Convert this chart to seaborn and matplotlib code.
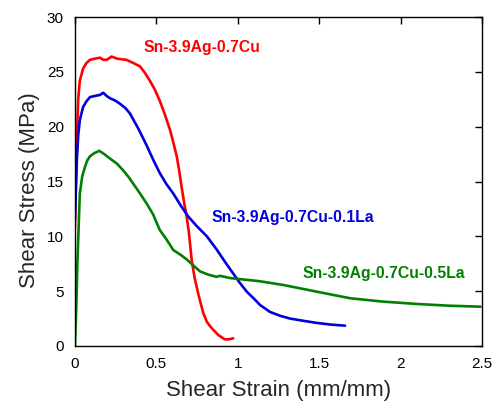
import matplotlib
matplotlib.use("Agg")
import matplotlib.pyplot as plt
import seaborn as sns
import pandas as pd

# Sn-3.9Ag-0.7Cu (red)
strain_a = [0.0, 0.005, 0.012, 0.02, 0.03, 0.05, 0.07, 0.092, 0.12, 0.154, 0.175, 0.195, 0.225, 0.26, 0.317,
            0.36, 0.40, 0.43, 0.46, 0.49, 0.52, 0.55, 0.584, 0.605, 0.625, 0.64, 0.655, 0.67, 0.686, 0.70,
            0.717, 0.735, 0.755, 0.77, 0.788, 0.81, 0.83, 0.85, 0.88, 0.90, 0.92, 0.945, 0.972]
stress_a = [10.8, 14.0, 19.0, 22.5, 24.2, 25.3, 25.8, 26.1, 26.2, 26.3, 26.1, 26.1, 26.4, 26.2, 26.1,
            25.8, 25.5, 24.9, 24.2, 23.4, 22.4, 21.2, 19.7, 18.5, 17.3, 16.0, 14.5, 13.1, 11.8, 10.3,
            7.8, 6.2, 4.9, 4.0, 3.0, 2.2, 1.8, 1.46, 1.0, 0.8, 0.6, 0.6, 0.7]

# Sn-3.9Ag-0.7Cu-0.1La (blue)
strain_b = [0.0, 0.005, 0.012, 0.02, 0.03, 0.05, 0.07, 0.092, 0.12, 0.154, 0.174, 0.195, 0.215, 0.245, 0.276,
            0.31, 0.338, 0.39, 0.44, 0.48, 0.52, 0.56, 0.604, 0.65, 0.696, 0.75, 0.81, 0.87, 0.92,
            0.972, 1.01, 1.055, 1.10, 1.136, 1.198, 1.26, 1.32, 1.40, 1.485, 1.57, 1.658]
stress_b = [11.5, 14.0, 17.0, 19.2, 20.6, 21.8, 22.3, 22.7, 22.8, 22.9, 23.1, 22.8, 22.6, 22.4, 22.1,
            21.7, 21.2, 19.8, 18.3, 17.0, 15.8, 14.8, 13.9, 12.8, 11.8, 10.9, 10.0, 8.8, 7.7,
            6.6, 5.8, 4.95, 4.3, 3.74, 3.1, 2.75, 2.5, 2.3, 2.1, 1.95, 1.85]

# Sn-3.9Ag-0.7Cu-0.5La (green)
strain_c = [0.0, 0.005, 0.01, 0.015, 0.02, 0.03, 0.045, 0.061, 0.075, 0.092, 0.12, 0.15, 0.18, 0.215, 0.26,
            0.297, 0.33, 0.358, 0.40, 0.44, 0.48, 0.52, 0.563, 0.604, 0.65, 0.686, 0.73, 0.768, 0.82,
            0.87, 0.89, 0.95, 1.01, 1.075, 1.136, 1.28, 1.485, 1.69, 1.894, 2.1, 2.30, 2.49]
stress_c = [0.0, 2.0, 4.5, 7.5, 9.7, 13.9, 15.5, 16.3, 16.9, 17.3, 17.6, 17.8, 17.5, 17.1, 16.6,
            16.0, 15.4, 14.8, 13.9, 13.0, 12.0, 10.6, 9.7, 8.75, 8.3, 7.9, 7.3, 6.8, 6.5,
            6.3, 6.4, 6.2, 6.1, 6.0, 5.9, 5.56, 4.95, 4.35, 4.04, 3.83, 3.67, 3.58]

labels = ["Sn-3.9Ag-0.7Cu", "Sn-3.9Ag-0.7Cu-0.1La", "Sn-3.9Ag-0.7Cu-0.5La"]
colors = ["#ff0000", "#0000dd", "#008000"]
x_ticks = [0, 0.5, 1, 1.5, 2, 2.5]
x_tick_labels = ["0", "0.5", "1", "1.5", "2", "2.5"]
y_ticks = [0, 5, 10, 15, 20, 25, 30]

frames = []
for lab, xs, ys in zip(labels, [strain_a, strain_b, strain_c], [stress_a, stress_b, stress_c]):
    frames.append(pd.DataFrame({"strain": xs, "stress": ys, "alloy": lab}))
df = pd.concat(frames, ignore_index=True)

sns.set_theme(style="white")
plt.rcParams["font.family"] = ["Liberation Sans", "DejaVu Sans"]

fig = plt.figure(figsize=(4.93, 4.07), dpi=100)
ax = fig.add_axes([0.152, 0.150, 0.826, 0.808])

sns.lineplot(data=df, x="strain", y="stress", hue="alloy", palette=dict(zip(labels, colors)),
             sort=False, estimator=None, units="alloy", linewidth=1.9, legend=False, ax=ax)

ax.set_xlim(0, 2.5)
ax.set_ylim(0, 30)
ax.set_xticks(x_ticks)
ax.set_xticklabels(x_tick_labels)
ax.set_yticks(y_ticks)
ax.tick_params(direction="in", length=5, width=1, top=True, right=True, labelsize=11,
               colors="black", pad=8)
for s in ax.spines.values():
    s.set_color("black")
    s.set_linewidth(1.0)
ax.set_xlabel("Shear Strain (mm/mm)", fontsize=16)
ax.set_ylabel("Shear Stress (MPa)", fontsize=16)
ax.xaxis.set_label_coords(0.5, -0.105)
ax.yaxis.set_label_coords(-0.085, 0.474)

ax.text(0.42, 27.2, labels[0], color=colors[0], fontsize=11.3, fontweight="bold", va="center", ha="left")
ax.text(0.84, 11.7, labels[1], color=colors[1], fontsize=11.3, fontweight="bold", va="center", ha="left")
ax.text(1.395, 6.6, labels[2], color=colors[2], fontsize=11.3, fontweight="bold", va="center", ha="left")

fig.savefig("out.png", dpi=100)
